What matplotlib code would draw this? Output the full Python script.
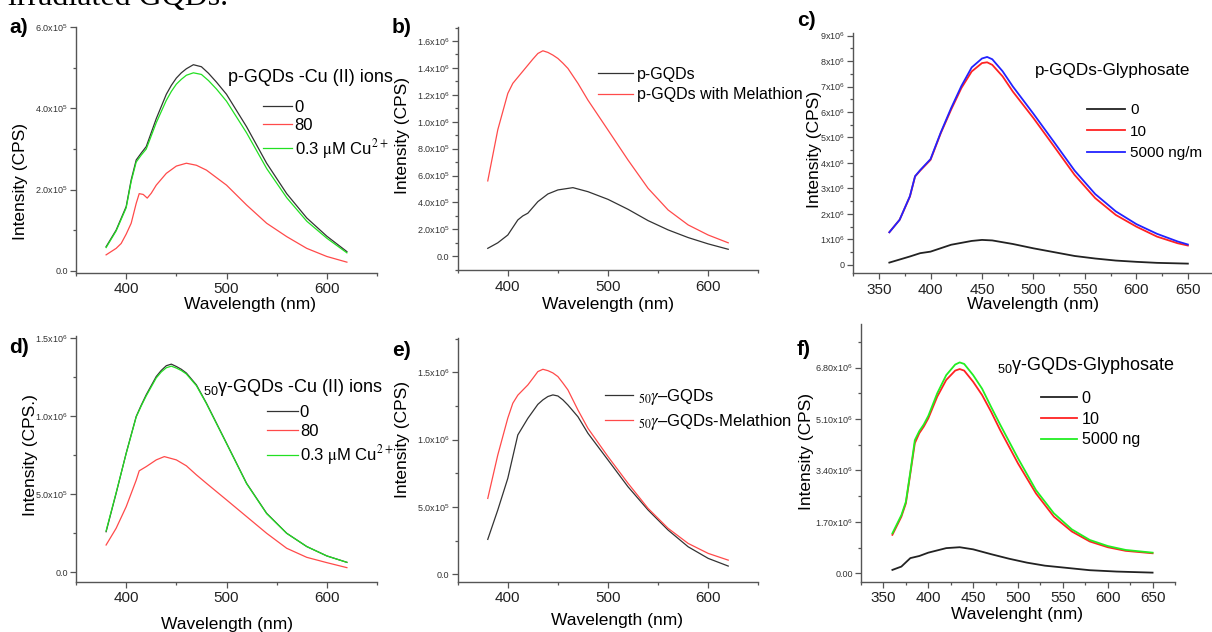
import numpy as np
import matplotlib
matplotlib.use("Agg")
import matplotlib.pyplot as plt
from matplotlib.ticker import MultipleLocator, FixedLocator, FuncFormatter

plt.rcParams['font.family'] = ['Liberation Sans', 'DejaVu Sans']
plt.rcParams['mathtext.fontset'] = 'custom'
plt.rcParams['mathtext.rm'] = 'Liberation Sans'
plt.rcParams['mathtext.it'] = 'Liberation Sans:italic'
plt.rcParams['mathtext.bf'] = 'Liberation Sans:bold'

# ---- data (intensity in CPS) ----
# a) p-GQDs - Cu(II) ions  (x1e5)
wl_a = [380, 390, 400, 405, 410, 415, 420, 430, 440, 445, 450, 455, 460, 467, 475, 482, 490, 500, 520, 540, 560, 580, 600, 620]
a_0 = [0.59, 1.0, 1.58, 2.24, 2.73, 2.9, 3.06, 3.75, 4.35, 4.57, 4.75, 4.88, 4.98, 5.08, 5.03, 4.87, 4.65, 4.35, 3.55, 2.65, 1.9, 1.3, 0.85, 0.47]
a_cu = [0.57, 0.98, 1.55, 2.2, 2.68, 2.85, 3.0, 3.65, 4.2, 4.42, 4.6, 4.72, 4.82, 4.88, 4.84, 4.69, 4.48, 4.18, 3.4, 2.52, 1.8, 1.22, 0.8, 0.44]
wl_a80 = [380, 390, 395, 400, 405, 410, 413, 417, 421, 425, 430, 440, 450, 460, 470, 480, 500, 520, 540, 560, 580, 600, 620]
a_80 = [0.39, 0.55, 0.67, 0.9, 1.17, 1.66, 1.9, 1.88, 1.79, 1.91, 2.11, 2.4, 2.58, 2.65, 2.6, 2.48, 2.11, 1.62, 1.17, 0.84, 0.55, 0.35, 0.21]

# b) p-GQDs / Melathion  (x1e5)
wl_b0 = [380, 390, 400, 410, 415, 420, 430, 440, 450, 465, 480, 500, 520, 540, 560, 580, 600, 620]
b_0 = [0.59, 1.0, 1.58, 2.7, 3.0, 3.2, 4.06, 4.63, 4.93, 5.1, 4.8, 4.23, 3.49, 2.65, 1.96, 1.39, 0.92, 0.52]
wl_bm = [380, 390, 400, 405, 410, 420, 425, 430, 435, 440, 445, 450, 455, 460, 470, 480, 500, 520, 540, 560, 580, 600, 620]
b_mel = [5.6, 9.4, 12.1, 12.85, 13.3, 14.2, 14.65, 15.07, 15.27, 15.15, 14.95, 14.7, 14.35, 13.96, 12.85, 11.6, 9.38, 7.15, 5.05, 3.44, 2.33, 1.58, 1.0]

# c) p-GQDs - Glyphosate  (x1e6)
wl_c0 = [360, 380, 390, 400, 420, 440, 450, 460, 480, 500, 520, 540, 560, 580, 600, 620, 650]
c_0 = [0.09, 0.33, 0.46, 0.52, 0.79, 0.94, 0.98, 0.96, 0.82, 0.65, 0.5, 0.35, 0.25, 0.17, 0.12, 0.08, 0.05]
wl_c = [360, 370, 380, 385, 390, 400, 410, 420, 430, 440, 450, 455, 460, 470, 480, 500, 520, 540, 560, 580, 600, 620, 640, 650]
c_10 = [1.28, 1.77, 2.68, 3.47, 3.7, 4.12, 5.17, 6.09, 6.94, 7.59, 7.92, 7.95, 7.85, 7.4, 6.8, 5.76, 4.65, 3.53, 2.62, 1.96, 1.5, 1.11, 0.85, 0.76]
c_5000 = [1.28, 1.77, 2.7, 3.48, 3.72, 4.15, 5.2, 6.15, 7.02, 7.75, 8.1, 8.16, 8.07, 7.6, 7.0, 5.93, 4.82, 3.7, 2.78, 2.1, 1.6, 1.22, 0.92, 0.8]

# d) 50y-GQDs - Cu(II) ions  (x1e5)
wl_d = [380, 390, 400, 410, 415, 420, 430, 435, 440, 445, 450, 455, 460, 470, 480, 500, 520, 540, 560, 580, 600, 620]
d_0 = [2.6, 5.06, 7.63, 9.98, 10.7, 11.37, 12.54, 12.93, 13.23, 13.33, 13.18, 13.0, 12.76, 12.0, 10.83, 8.27, 5.7, 3.78, 2.5, 1.65, 1.05, 0.64]
d_cu = [2.65, 5.1, 7.6, 9.95, 10.65, 11.3, 12.45, 12.83, 13.1, 13.2, 13.08, 12.92, 12.7, 11.95, 10.8, 8.25, 5.68, 3.76, 2.5, 1.65, 1.05, 0.64]
wl_d80 = [380, 390, 400, 410, 413, 420, 430, 438, 450, 460, 470, 480, 500, 520, 540, 560, 580, 600, 620]
d_80 = [1.75, 2.82, 4.2, 5.9, 6.5, 6.77, 7.2, 7.41, 7.2, 6.82, 6.24, 5.7, 4.64, 3.57, 2.5, 1.54, 0.96, 0.62, 0.3]

# e) 50y-GQDs / Melathion  (x1e5)
wl_e0 = [380, 390, 400, 410, 420, 430, 435, 440, 445, 450, 455, 460, 470, 480, 500, 520, 540, 560, 580, 600, 620]
e_0 = [2.6, 4.78, 7.13, 10.35, 11.58, 12.62, 12.95, 13.2, 13.32, 13.24, 12.95, 12.57, 11.7, 10.47, 8.49, 6.5, 4.78, 3.29, 2.05, 1.19, 0.62]
wl_em = [380, 390, 400, 405, 410, 420, 425, 430, 435, 440, 445, 450, 455, 460, 470, 480, 500, 520, 540, 560, 580, 600, 620]
e_mel = [5.64, 8.86, 11.6, 12.7, 13.3, 14.06, 14.55, 15.05, 15.22, 15.12, 14.95, 14.68, 14.2, 13.69, 12.2, 10.84, 8.74, 6.76, 4.9, 3.42, 2.3, 1.56, 1.06]

# f) 50y-GQDs - Glyphosate  (x1e6)
wl_f0 = [360, 370, 380, 390, 400, 420, 435, 450, 470, 490, 510, 530, 550, 580, 610, 650]
f_0 = [0.11, 0.22, 0.5, 0.57, 0.68, 0.83, 0.86, 0.79, 0.63, 0.48, 0.35, 0.25, 0.19, 0.1, 0.055, 0.02]
wl_f = [360, 370, 375, 380, 385, 390, 395, 400, 410, 420, 430, 435, 440, 450, 460, 470, 480, 500, 520, 540, 560, 580, 600, 620, 650]
f_10 = [1.27, 1.87, 2.31, 3.3, 4.3, 4.63, 4.85, 5.12, 5.84, 6.39, 6.7, 6.75, 6.7, 6.33, 5.89, 5.34, 4.74, 3.63, 2.64, 1.87, 1.38, 1.05, 0.86, 0.74, 0.66]
f_5000 = [1.32, 1.92, 2.36, 3.35, 4.4, 4.7, 4.92, 5.2, 5.95, 6.55, 6.9, 6.97, 6.92, 6.55, 6.1, 5.5, 4.92, 3.8, 2.75, 1.98, 1.45, 1.1, 0.9, 0.77, 0.68]

W, H = 1212, 632
fig = plt.figure(figsize=(W / 100, H / 100), dpi=100)


def rect(l, t, r, b):
    return [l / W, 1 - b / H, (r - l) / W, (b - t) / H]


def fx(x):
    return x / W


def fy(y):
    return 1 - y / H


def sci(dec):
    def fmt(v, pos):
        if abs(v) < 1e-9:
            return f"{0:.{dec}f}"
        e = int(np.floor(np.log10(abs(v)) + 1e-9))
        return f"{v / 10 ** e:.{dec}f}x$10^{{{e}}}$"
    return FuncFormatter(fmt)


def style(ax, xlim, ylim, xmaj, xmin, ymaj, ymin, dec):
    ax.set_xlim(*xlim)
    ax.set_ylim(*ylim)
    for s in ['top', 'right']:
        ax.spines[s].set_visible(False)
    for s in ['left', 'bottom']:
        ax.spines[s].set_color('#555555')
        ax.spines[s].set_linewidth(1.0)
    ax.xaxis.set_major_locator(MultipleLocator(xmaj))
    ax.xaxis.set_minor_locator(MultipleLocator(xmin))
    ax.yaxis.set_major_locator(FixedLocator(ymaj))
    ax.yaxis.set_minor_locator(MultipleLocator(ymin))
    ax.yaxis.set_major_formatter(sci(dec))
    ax.tick_params(which='both', direction='out', color='#555555', width=0.9)
    ax.tick_params(which='major', length=4)
    ax.tick_params(which='minor', length=2.5)
    ax.tick_params(axis='x', labelsize=11, labelcolor='#222222', pad=3)
    ax.tick_params(axis='y', labelsize=6.5, labelcolor='#333333', pad=2)


def labels(xl, xpos, yl, ypos, size=12.5):
    fig.text(fx(xpos[0]), fy(xpos[1]), xl, ha='center', va='center', fontsize=size)
    fig.text(fx(ypos[0]), fy(ypos[1]), yl, ha='center', va='center', fontsize=size, rotation=90)


def leg(ax, x, y, fs, hl, tp, ls):
    lg = ax.legend(loc='upper left', bbox_to_anchor=(fx(x), fy(y)), bbox_transform=fig.transFigure,
                   frameon=False, fontsize=fs, handlelength=hl, handletextpad=tp, labelspacing=ls,
                   borderpad=0, borderaxespad=0)
    return lg


BLK = '#333333'
RED_L = '#ff4a4a'
GRN = '#22e022'

# a)
ax = fig.add_axes(rect(76, 27, 377, 272.7))
ax.plot(wl_a, np.array(a_0) * 1e5, color=BLK, lw=0.9, label='0')
ax.plot(wl_a80, np.array(a_80) * 1e5, color=RED_L, lw=0.9, label='80')
ax.plot(wl_a, np.array(a_cu) * 1e5, color=GRN, lw=0.9, label=r'0.3 $\mathrm{\mu}$M Cu$^{2+}$')
style(ax, (350, 650), (-0.05e5, 6.01e5), 100, 50, [0, 2e5, 4e5, 6e5], 1e5, 1)
lg = leg(ax, 263, 100, 12, 1.75, 0.15, 0.2)
lg.get_texts()[2].set_math_fontfamily('stix')
fig.text(fx(228), fy(77), 'p-GQDs -Cu (II) ions', fontsize=13, va='center', ha='left')
labels('Wavelength (nm)', (250, 305), 'Intensity (CPS)', (21, 181), 12.5)

# b)
ax = fig.add_axes(rect(457.7, 26.7, 758.3, 270))
ax.plot(wl_b0, np.array(b_0) * 1e5, color=BLK, lw=0.9, label='p-GQDs')
ax.plot(wl_bm, np.array(b_mel) * 1e5, color=RED_L, lw=0.9, label='p-GQDs with Melathion')
style(ax, (350, 650), (-1.02e5, 17.06e5), 100, 50, list(np.arange(0, 17, 2) * 1e5), 1e5, 1)
leg(ax, 598, 66.5, 11.5, 2.2, 0.25, 0.35)
labels('Wavelength (nm)', (608, 305), 'Intensity (CPS)', (403, 135), 12.5)

# c)
ax = fig.add_axes(rect(853.3, 33, 1213.6, 273.3))
ax.plot(wl_c0, np.array(c_0) * 1e6, color='#222222', lw=1.3, label='0')
ax.plot(wl_c, np.array(c_10) * 1e6, color='#ff2222', lw=1.3, label='10')
ax.plot(wl_c, np.array(c_5000) * 1e6, color='#2222ff', lw=1.3, label='5000 ng/m')
style(ax, (325, 675), (-0.33e6, 9.1e6), 50, 25, list(np.arange(0, 10) * 1e6), 0.5e6, 0)
leg(ax, 1087, 103, 11, 2.5, 0.33, 0.5)
fig.text(fx(1035), fy(71), 'p-GQDs-Glyphosate', fontsize=12.3, va='center', ha='left')
labels('Wavelength (nm)', (1033, 305), 'Intensity (CPS)', (815, 150), 12.5)

# d)
ax = fig.add_axes(rect(76, 336.5, 377, 581.7))
ax.plot(wl_d, np.array(d_0) * 1e5, color=BLK, lw=0.9, label='0')
ax.plot(wl_d80, np.array(d_80) * 1e5, color=RED_L, lw=0.9, label='80')
ax.plot(wl_d, np.array(d_cu) * 1e5, color=GRN, lw=0.9, label=r'0.3 $\mathrm{\mu}$M Cu$^{2+}$')
style(ax, (350, 650), (-0.6e5, 15.1e5), 100, 50, [0, 5e5, 10e5, 15e5], 2.5e5, 1)
lg = leg(ax, 267, 405, 12, 1.85, 0.12, 0.25)
lg.get_texts()[2].set_math_fontfamily('stix')
fig.text(fx(203), fy(388), '$_{50}$γ-GQDs -Cu (II) ions', fontsize=13, va='center', ha='left')
labels('Wavelength (nm)', (227, 625), 'Intensity (CPS.)', (30, 455), 12.5)

# e)
ax = fig.add_axes(rect(457.7, 338.3, 758.3, 581.7))
ax.plot(wl_e0, np.array(e_0) * 1e5, color=BLK, lw=0.9, label=r'$_{50}\gamma$–GQDs')
ax.plot(wl_em, np.array(e_mel) * 1e5, color=RED_L, lw=0.9, label=r'$_{50}\gamma$–GQDs-Melathion')
style(ax, (350, 650), (-0.54e5, 17.52e5), 100, 50, [0, 5e5, 10e5, 15e5], 2.5e5, 1)
lg = leg(ax, 605, 387, 12, 1.7, 0.25, 0.3)
for t in lg.get_texts():
    t.set_math_fontfamily('stix')
labels('Wavelength (nm)', (617, 620), 'Intensity (CPS)', (403, 439), 12.5)

# f)
ax = fig.add_axes(rect(861, 324, 1175, 581.7))
ax.plot(wl_f0, np.array(f_0) * 1e6, color='#222222', lw=1.3, label='0')
ax.plot(wl_f, np.array(f_10) * 1e6, color='#ff2222', lw=1.3, label='10')
ax.plot(wl_f, np.array(f_5000) * 1e6, color='#22ee22', lw=1.3, label='5000 ng')
style(ax, (325, 675), (-0.28e6, 8.24e6), 50, 25, [0, 1.7e6, 3.4e6, 5.1e6, 6.8e6], 0.85e6, 2)
leg(ax, 1040.7, 391, 11.6, 2.25, 0.3, 0.35)
fig.text(fx(997), fy(366), '$_{50}$γ-GQDs-Glyphosate', fontsize=13, va='center', ha='left')
labels('Wavelenght (nm)', (1017, 615), 'Intensity (CPS)', (806, 452), 12.5)

# panel letters and the clipped caption line above
for txt, x, y in [('a)', 9, 33), ('b)', 392, 33), ('c)', 797, 26),
                  ('d)', 9, 353), ('e)', 392, 356), ('f)', 797, 355)]:
    fig.text(fx(x), fy(y), txt, fontsize=15, fontweight='bold', va='baseline', ha='left')
fig.text(fx(8), fy(5), 'irradiated GQDs.', fontsize=23, family='Liberation Serif', va='baseline', ha='left')

fig.savefig('out.png', dpi=100)
